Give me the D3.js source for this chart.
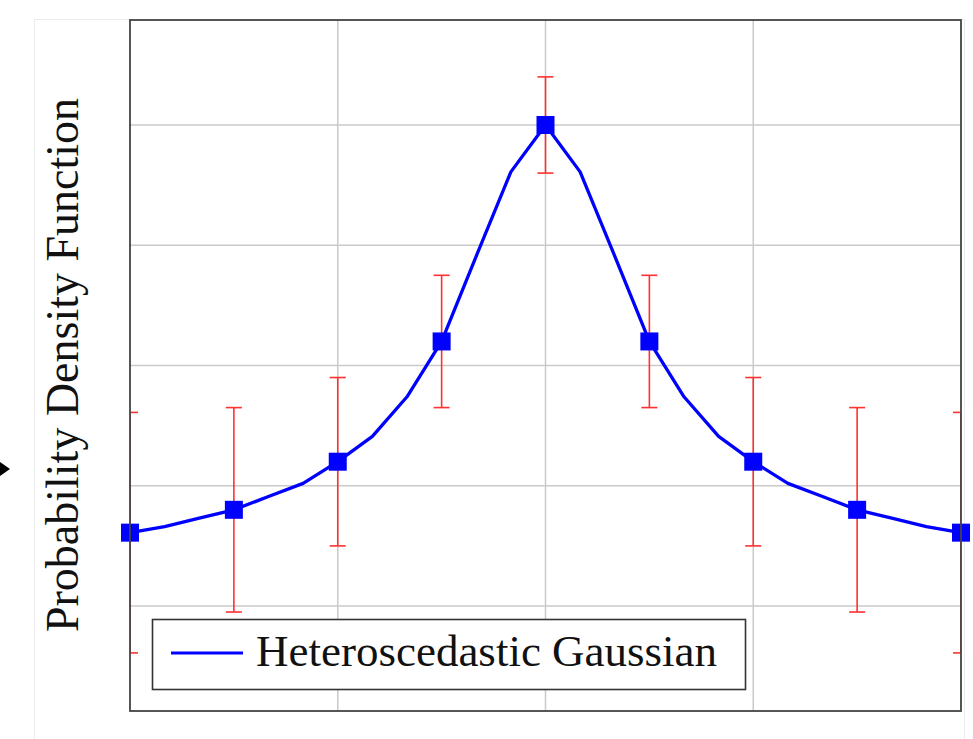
<!DOCTYPE html>
<html>
<head>
<meta charset="utf-8">
<script src="https://cdn.jsdelivr.net/npm/d3@7"></script>
<style>
  body { margin: 0; background: #fff; }
  svg { display: block; }
</style>
</head>
<body>
<div id="chart"></div>
<script>
// marker points (with error bars)
const xs = [-4, -3, -2, -1, 0, 1, 2, 3, 4];
const ys = [0.161, 0.180, 0.220, 0.320, 0.500, 0.320, 0.220, 0.180, 0.161];
const errs = [0.100, 0.085, 0.070, 0.055, 0.040, 0.055, 0.070, 0.085, 0.100];

// curve samples (every 1/3)
const curveX = [-4, -11/3, -10/3, -3, -8/3, -7/3, -2, -5/3, -4/3, -1, -2/3, -1/3, 0,
                1/3, 2/3, 1, 4/3, 5/3, 2, 7/3, 8/3, 3, 10/3, 11/3, 4];
const curveY = [0.161, 0.166, 0.173, 0.180, 0.191, 0.202, 0.220, 0.241, 0.274, 0.320, 0.391, 0.461, 0.500,
                0.461, 0.391, 0.320, 0.274, 0.241, 0.220, 0.202, 0.191, 0.180, 0.173, 0.166, 0.161];

const xGrid = [-2, 0, 2];
const yGrid = [0.1, 0.2, 0.3, 0.4, 0.5];

const width = 973, height = 739;
const margin = { left: 130, right: 12, top: 20, bottom: 28 };

const svg = d3.select("#chart").append("svg")
    .attr("width", width).attr("height", height);

const x = d3.scaleLinear().domain([-4, 4]).range([margin.left, width - margin.right]);
const y = d3.scaleLinear().domain([0.0127, 0.5873]).range([height - margin.bottom, margin.top]);

// faint page panel behind the figure
svg.append("rect")
    .attr("x", 34.5).attr("y", 19.5)
    .attr("width", 930).attr("height", 740)
    .attr("fill", "none").attr("stroke", "#ececec");

// little black arrow tip on the far left
svg.append("path")
    .attr("d", "M0,462 L10,469 L0,476 Z")
    .attr("fill", "#000");

svg.append("clipPath").attr("id", "plot-clip")
  .append("rect")
    .attr("x", x(-4)).attr("y", y.range()[1])
    .attr("width", x(4) - x(-4)).attr("height", y.range()[0] - y.range()[1]);

// grid
const grid = svg.append("g").attr("stroke", "#cacaca").attr("stroke-width", 1.5);
grid.selectAll(".vg").data(xGrid).enter().append("line")
    .attr("x1", d => x(d)).attr("x2", d => x(d))
    .attr("y1", y.range()[1]).attr("y2", y.range()[0]);
grid.selectAll(".hg").data(yGrid).enter().append("line")
    .attr("x1", x(-4)).attr("x2", x(4))
    .attr("y1", d => y(d)).attr("y2", d => y(d));

// error bars
const eb = svg.append("g")
    .attr("clip-path", "url(#plot-clip)")
    .attr("stroke", "#ff3030").attr("stroke-width", 1.6);
const capW = 8;
xs.forEach((xv, i) => {
  const cx = x(xv), top = y(ys[i] + errs[i]), bot = y(ys[i] - errs[i]);
  eb.append("line").attr("x1", cx).attr("x2", cx).attr("y1", top).attr("y2", bot);
  eb.append("line").attr("x1", cx - capW).attr("x2", cx + capW).attr("y1", top).attr("y2", top);
  eb.append("line").attr("x1", cx - capW).attr("x2", cx + capW).attr("y1", bot).attr("y2", bot);
});

// curve
const line = d3.line().x(d => x(d[0])).y(d => y(d[1]));
svg.append("path")
    .datum(d3.zip(curveX, curveY))
    .attr("d", line)
    .attr("fill", "none")
    .attr("stroke", "#0000ff")
    .attr("stroke-width", 3.3)
    .attr("stroke-linejoin", "round");

// square markers
const ms = 18;
svg.append("g").selectAll("rect").data(d3.zip(xs, ys)).enter().append("rect")
    .attr("x", d => x(d[0]) - ms / 2)
    .attr("y", d => y(d[1]) - ms / 2)
    .attr("width", ms).attr("height", ms)
    .attr("fill", "#0000ff");

// frame
svg.append("rect")
    .attr("x", x(-4)).attr("y", y.range()[1])
    .attr("width", x(4) - x(-4)).attr("height", y.range()[0] - y.range()[1])
    .attr("fill", "none").attr("stroke", "#444").attr("stroke-width", 1.8);

// y label
svg.append("text")
    .attr("transform", "translate(78,365) rotate(-90)")
    .attr("text-anchor", "middle")
    .attr("font-family", "'Liberation Serif', serif")
    .attr("font-size", 46)
    .attr("fill", "#111")
    .text("Probability Density Function");

// legend
const lg = svg.append("g");
lg.append("rect")
    .attr("x", 152.5).attr("y", 619.5)
    .attr("width", 593).attr("height", 70)
    .attr("fill", "#fff").attr("stroke", "#333").attr("stroke-width", 1.6);
lg.append("line")
    .attr("x1", 171).attr("x2", 243).attr("y1", 653).attr("y2", 653)
    .attr("stroke", "#0000ff").attr("stroke-width", 3);
lg.append("text")
    .attr("x", 256).attr("y", 666)
    .attr("font-family", "'Liberation Serif', serif")
    .attr("font-size", 45)
    .attr("fill", "#111")
    .text("Heteroscedastic Gaussian");
</script>
</body>
</html>
